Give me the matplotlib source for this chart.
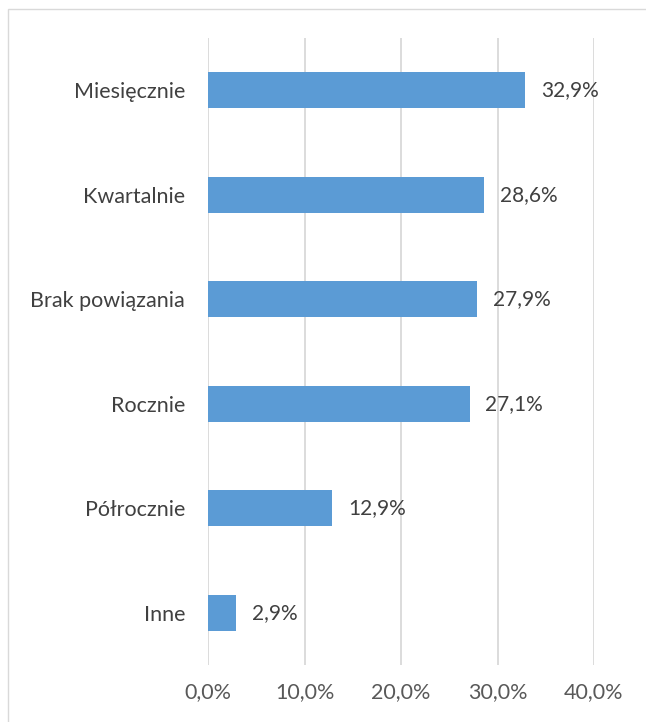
import matplotlib
matplotlib.use("Agg")
import matplotlib.pyplot as plt
from matplotlib.patches import Rectangle

categories = ["Miesięcznie", "Kwartalnie", "Brak powiązania", "Rocznie", "Półrocznie", "Inne"]
values = [32.9, 28.6, 27.9, 27.1, 12.9, 2.9]
xticks = [0, 10, 20, 30, 40]
xtick_labels = ["0,0%", "10,0%", "20,0%", "30,0%", "40,0%"]

plt.rcParams['font.family'] = ['Lato', 'DejaVu Sans']

fig = plt.figure(figsize=(6.46, 7.22), dpi=100)
ax = fig.add_axes([208/646, 1-665/722, (594-208)/646, (665-38)/722])

y = list(range(len(categories)))[::-1]
ax.barh(y, values, height=0.345, color="#5B9BD5", zorder=3)
ax.set_ylim(-0.5, len(categories)-0.5)
ax.set_xlim(0, 40)
ax.set_xticks(xticks)
ax.set_xticklabels(xtick_labels, fontsize=15.5, color="#595959")
ax.set_yticks(y)
ax.set_yticklabels(categories, fontsize=15.5, color="#404040")
ax.tick_params(axis='both', length=0)
ax.tick_params(axis='x', pad=12.5)
ax.tick_params(axis='y', pad=16.5)
ax.grid(axis='x', color="#D9D9D9", linewidth=1.3, zorder=0)
for s in ax.spines.values():
    s.set_visible(False)

for yi, v in zip(y, values):
    ax.text(v + 1.65, yi, f"{v:.1f}%".replace(".", ","), va='center', ha='left',
            fontsize=15, color="#404040")

fig.patches.append(Rectangle((7.5/646, -0.1), 1.2, 1 - 8.5/722 + 0.1, transform=fig.transFigure,
                             fill=False, edgecolor="#D9D9D9", linewidth=1.0))

fig.savefig("out.png", dpi=100, facecolor="white")
